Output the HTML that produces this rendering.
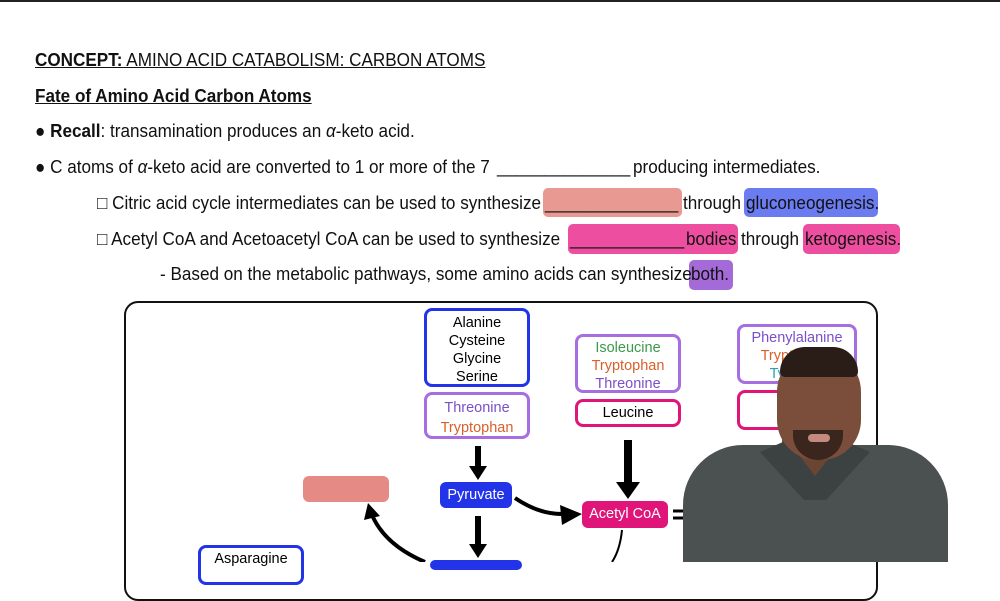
<!DOCTYPE html>
<html><head><style>
body{margin:0;width:1000px;height:562px;overflow:hidden;background:#fff;position:relative;font-family:"Liberation Sans",sans-serif;}
.t{position:absolute;font-size:18.5px;color:#111;white-space:nowrap;line-height:22px;transform:scaleX(0.925);transform-origin:0 0}
.hl{position:absolute;border-radius:5px}
.box{position:absolute;box-sizing:border-box;border-radius:8px;background:#fff;text-align:center;font-family:"Liberation Sans",sans-serif;font-size:14.5px;line-height:18px}
.fill{position:absolute;border-radius:6px;color:#fff;text-align:center;font-family:"Liberation Sans",sans-serif;font-size:14.5px}
</style></head><body>
<div style="position:absolute;left:0;top:0;width:1000px;height:2px;background:#222"></div>
<div class="hl" style="left:543px;top:188px;width:139px;height:29px;background:#e89a92"></div>
<div class="hl" style="left:744px;top:188px;width:134px;height:29px;background:#6b7cf0"></div>
<div class="hl" style="left:568px;top:224px;width:170px;height:30px;background:#ee4ea0"></div>
<div class="hl" style="left:803px;top:224px;width:97px;height:30px;background:#ee4ea0"></div>
<div class="hl" style="left:689px;top:260px;width:44px;height:30px;background:#a36ad8"></div>
<div class="t" style="left:35px;top:49px;text-decoration:underline"><b>CONCEPT:</b> AMINO ACID CATABOLISM: CARBON ATOMS</div>
<div class="t" style="left:35px;top:85px;text-decoration:underline;font-weight:bold">Fate of Amino Acid Carbon Atoms</div>
<div class="t" style="left:35px;top:120px">● <b>Recall</b>: transamination produces an <i>α</i>-keto acid.</div>
<div class="t" style="left:35px;top:156px">● C atoms of <i>α</i>-keto acid are converted to 1 or more of the 7</div>
<div class="t" style="left:497px;top:156px">______________</div>
<div class="t" style="left:633px;top:156px">producing intermediates.</div>
<div class="t" style="left:97px;top:192px">□ Citric acid cycle intermediates can be used to synthesize</div>
<div class="t" style="left:545px;top:192px">______________</div>
<div class="t" style="left:683px;top:192px">through</div>
<div class="t" style="left:746px;top:192px">gluconeogenesis.</div>
<div class="t" style="left:97px;top:228px">□ Acetyl CoA and Acetoacetyl CoA can be used to synthesize</div>
<div class="t" style="left:570px;top:228px">____________</div>
<div class="t" style="left:686px;top:228px">bodies</div>
<div class="t" style="left:741px;top:228px">through</div>
<div class="t" style="left:805px;top:228px">ketogenesis.</div>
<div class="t" style="left:160px;top:263px">- Based on the metabolic pathways, some amino acids can synthesize</div>
<div class="t" style="left:691px;top:263px">both.</div>

<div style="position:absolute;left:124px;top:301px;width:754px;height:300px;border:2px solid #111;border-radius:14px;box-sizing:border-box"></div>

<div class="box" style="left:424px;top:308px;width:106px;height:79px;border:3px solid #2233e8;padding-top:3px">Alanine<br>Cysteine<br>Glycine<br>Serine</div>
<div class="box" style="left:424px;top:392px;width:106px;height:47px;border:3px solid #a66ee0;padding-top:3px;line-height:20px"><span style="color:#7a4fc8">Threonine</span><br><span style="color:#d9602a">Tryptophan</span></div>
<div class="box" style="left:575px;top:334px;width:106px;height:59px;border:3px solid #a66ee0;padding-top:2px"><span style="color:#3a9a4a">Isoleucine</span><br><span style="color:#d9602a">Tryptophan</span><br><span style="color:#7a4fc8">Threonine</span></div>
<div class="box" style="left:575px;top:399px;width:106px;height:28px;border:3px solid #e0157a;padding-top:2px">Leucine</div>
<div class="box" style="left:737px;top:324px;width:120px;height:60px;border:3px solid #a66ee0;padding-top:2px"><span style="color:#7a4fc8">Phenylalanine</span><br><span style="color:#d9602a">Tryptophan</span><br><span style="color:#2aa0b0">Tyrosine</span></div>
<div class="box" style="left:737px;top:390px;width:100px;height:40px;border:3px solid #e0157a"></div>
<div class="box" style="left:198px;top:545px;width:106px;height:40px;border:3px solid #2233e8;padding-top:2px">Asparagine</div>

<div class="fill" style="left:303px;top:476px;width:86px;height:26px;background:#e58a85"></div>
<div class="fill" style="left:440px;top:482px;width:72px;height:26px;line-height:26px;background:#2233e8">Pyruvate</div>
<div class="fill" style="left:582px;top:501px;width:86px;height:27px;line-height:27px;background:#e0157a">Acetyl CoA</div>
<div class="fill" style="left:430px;top:560px;width:92px;height:10px;background:#2233e8"></div>

<svg style="position:absolute;left:0;top:0" width="1000" height="562">
<line x1="478" y1="446" x2="478" y2="468" stroke="#000" stroke-width="6"/><path d="M469,466 L487,466 L478,480 z"/>
<line x1="478" y1="516" x2="478" y2="546" stroke="#000" stroke-width="6"/><path d="M469,544 L487,544 L478,558 z"/>
<line x1="628" y1="440" x2="628" y2="484" stroke="#000" stroke-width="8"/><path d="M616,482 L640,482 L628,499 z"/>
<path d="M515,498 Q540,515 565,514" stroke="#000" stroke-width="4" fill="none"/><path d="M560,505 L582,514 L562,525 z"/>
<path d="M425,562 Q385,545 372,515" stroke="#000" stroke-width="4" fill="none"/><path d="M364,520 L368,503 L380,516 z"/>
<path d="M622,530 Q620,550 612,562" stroke="#000" stroke-width="2" fill="none"/>
<line x1="673" y1="511" x2="700" y2="511" stroke="#000" stroke-width="3"/><line x1="673" y1="518" x2="700" y2="518" stroke="#000" stroke-width="3"/>
</svg>

<div style="position:absolute;left:683px;top:445px;width:265px;height:117px;background:#4a5150;border-radius:60px 60px 0 0"></div>
<div style="position:absolute;left:782px;top:430px;width:70px;height:60px;background:#6b4533;border-radius:0 0 30px 30px"></div>
<div style="position:absolute;left:760px;top:440px;width:110px;height:60px;background:#3c4241;clip-path:polygon(0 20%,25% 0,50% 60%,75% 0,100% 20%,60% 100%,40% 100%)"></div>
<div style="position:absolute;left:777px;top:350px;width:84px;height:110px;background:#7a4e3a;border-radius:42px 42px 40px 40px"></div>
<div style="position:absolute;left:780px;top:347px;width:78px;height:30px;background:#2a1c16;border-radius:40px 40px 8px 8px"></div>
<div style="position:absolute;left:793px;top:430px;width:50px;height:30px;background:#3a261c;border-radius:0 0 25px 25px"></div>
<div style="position:absolute;left:808px;top:434px;width:22px;height:8px;background:#c48a80;border-radius:5px"></div>
</body></html>
